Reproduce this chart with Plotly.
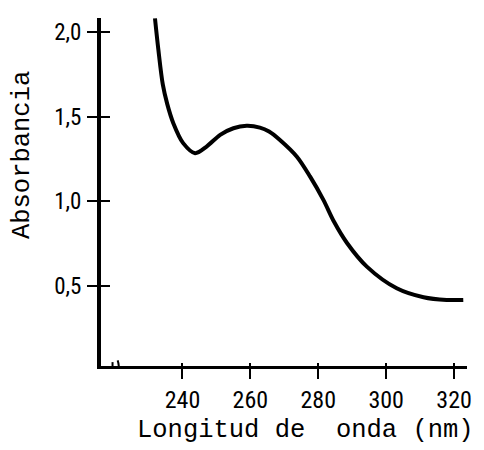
import plotly.graph_objects as go

# Data
wavelength_nm = [231.9, 232.9, 234.2, 235.5, 237.3, 240.2, 243.7, 247.1, 251.1, 255.0,
                 258.9, 262.8, 265.5, 268.7, 273.7, 277.6, 281.5, 284.6, 288.4, 294.3,
                 303.1, 311.0, 317.8, 322.7]
absorbance = [2.08, 1.894, 1.690, 1.575, 1.461, 1.343, 1.284, 1.323, 1.392, 1.431,
              1.445, 1.435, 1.412, 1.362, 1.263, 1.145, 1.008, 0.880, 0.755, 0.614,
              0.486, 0.433, 0.417, 0.417]

x_ticks = [240, 260, 280, 300, 320]
x_ticklabels = ["240", "260", "280", "300", "320"]
y_ticks = [0.5, 1.0, 1.5, 2.0]
y_ticklabels = ["0,5", "1,0", "1,5", "2,0"]

x_title = "Longitud de\u00a0\u00a0onda (nm)"
y_title = "Absorbancia"

XR = [216.0, 323.8]
YR = [0.027, 2.082]

narrow = "Liberation Sans Narrow, Arial Narrow, Roboto Condensed, Liberation Sans"
xtick_font = dict(family=narrow, size=24, color="black")
ytick_font = dict(family=narrow, size=23, color="black")
title_font = dict(family="Liberation Mono, DejaVu Sans Mono, monospace", size=25.5, color="black")

fig = go.Figure()
fig.add_trace(go.Scatter(x=wavelength_nm, y=absorbance, mode="lines",
                         line=dict(color="black", width=4, shape="spline", smoothing=0.9),
                         showlegend=False, hoverinfo="skip"))
# invisible trace for the overlaid axis (ticks on the other side of the axis line)
fig.add_trace(go.Scatter(x=[XR[0]], y=[YR[0]], xaxis="x2", yaxis="y2", mode="markers",
                         marker=dict(opacity=0), showlegend=False, hoverinfo="skip"))

# page body has an 8px margin: the figure is shifted by 8px, so compensate
fig.update_layout(
    width=476, height=442,
    margin=dict(l=93, r=17, t=10, b=84),
    paper_bgcolor="white", plot_bgcolor="white",
    xaxis=dict(range=XR, tickvals=x_ticks, ticktext=x_ticklabels, ticks="outside",
               ticklen=10, tickwidth=2, tickcolor="black", showline=True, linewidth=3,
               linecolor="black", showgrid=False, zeroline=False, tickfont=xtick_font,
               ticklabelstandoff=0),
    yaxis=dict(range=YR, tickvals=y_ticks, ticktext=y_ticklabels, ticks="outside",
               ticklen=10, tickwidth=2, tickcolor="black", showline=True, linewidth=4,
               linecolor="black", showgrid=False, zeroline=False, tickfont=ytick_font,
               ticklabelstandoff=1),
    xaxis2=dict(range=XR, overlaying="x", tickvals=x_ticks, ticks="inside", ticklen=3,
                tickwidth=2, tickcolor="black", showticklabels=False, showgrid=False,
                zeroline=False, showline=False),
    yaxis2=dict(range=YR, overlaying="y", tickvals=y_ticks, ticks="inside", ticklen=9,
                tickwidth=2, tickcolor="black", showticklabels=False, showgrid=False,
                zeroline=False, showline=False),
)

# axis break on x axis
fig.add_shape(type="rect", xref="x", yref="y", x0=219.6, x1=221.0, y0=-0.02, y1=0.06,
              fillcolor="white", line=dict(width=0), layer="above")
fig.add_shape(type="line", xref="x", yref="y", x0=219.4, x1=219.4, y0=-0.02, y1=0.05,
              line=dict(color="black", width=2), layer="above")
fig.add_shape(type="path", xref="x", yref="y",
              path="M 220.9 0.06 Q 221.6 0.02 220.9 -0.025",
              line=dict(color="black", width=2), layer="above")

fig.add_annotation(text=y_title, xref="paper", yref="paper", x=-0.216, y=0.606,
                   textangle=-90, showarrow=False, font=title_font,
                   xanchor="center", yanchor="middle")
fig.add_annotation(text=x_title, xref="paper", yref="paper", x=0.560, y=-0.186,
                   showarrow=False, font=title_font, xanchor="center", yanchor="middle")

fig.write_html("out.html")
